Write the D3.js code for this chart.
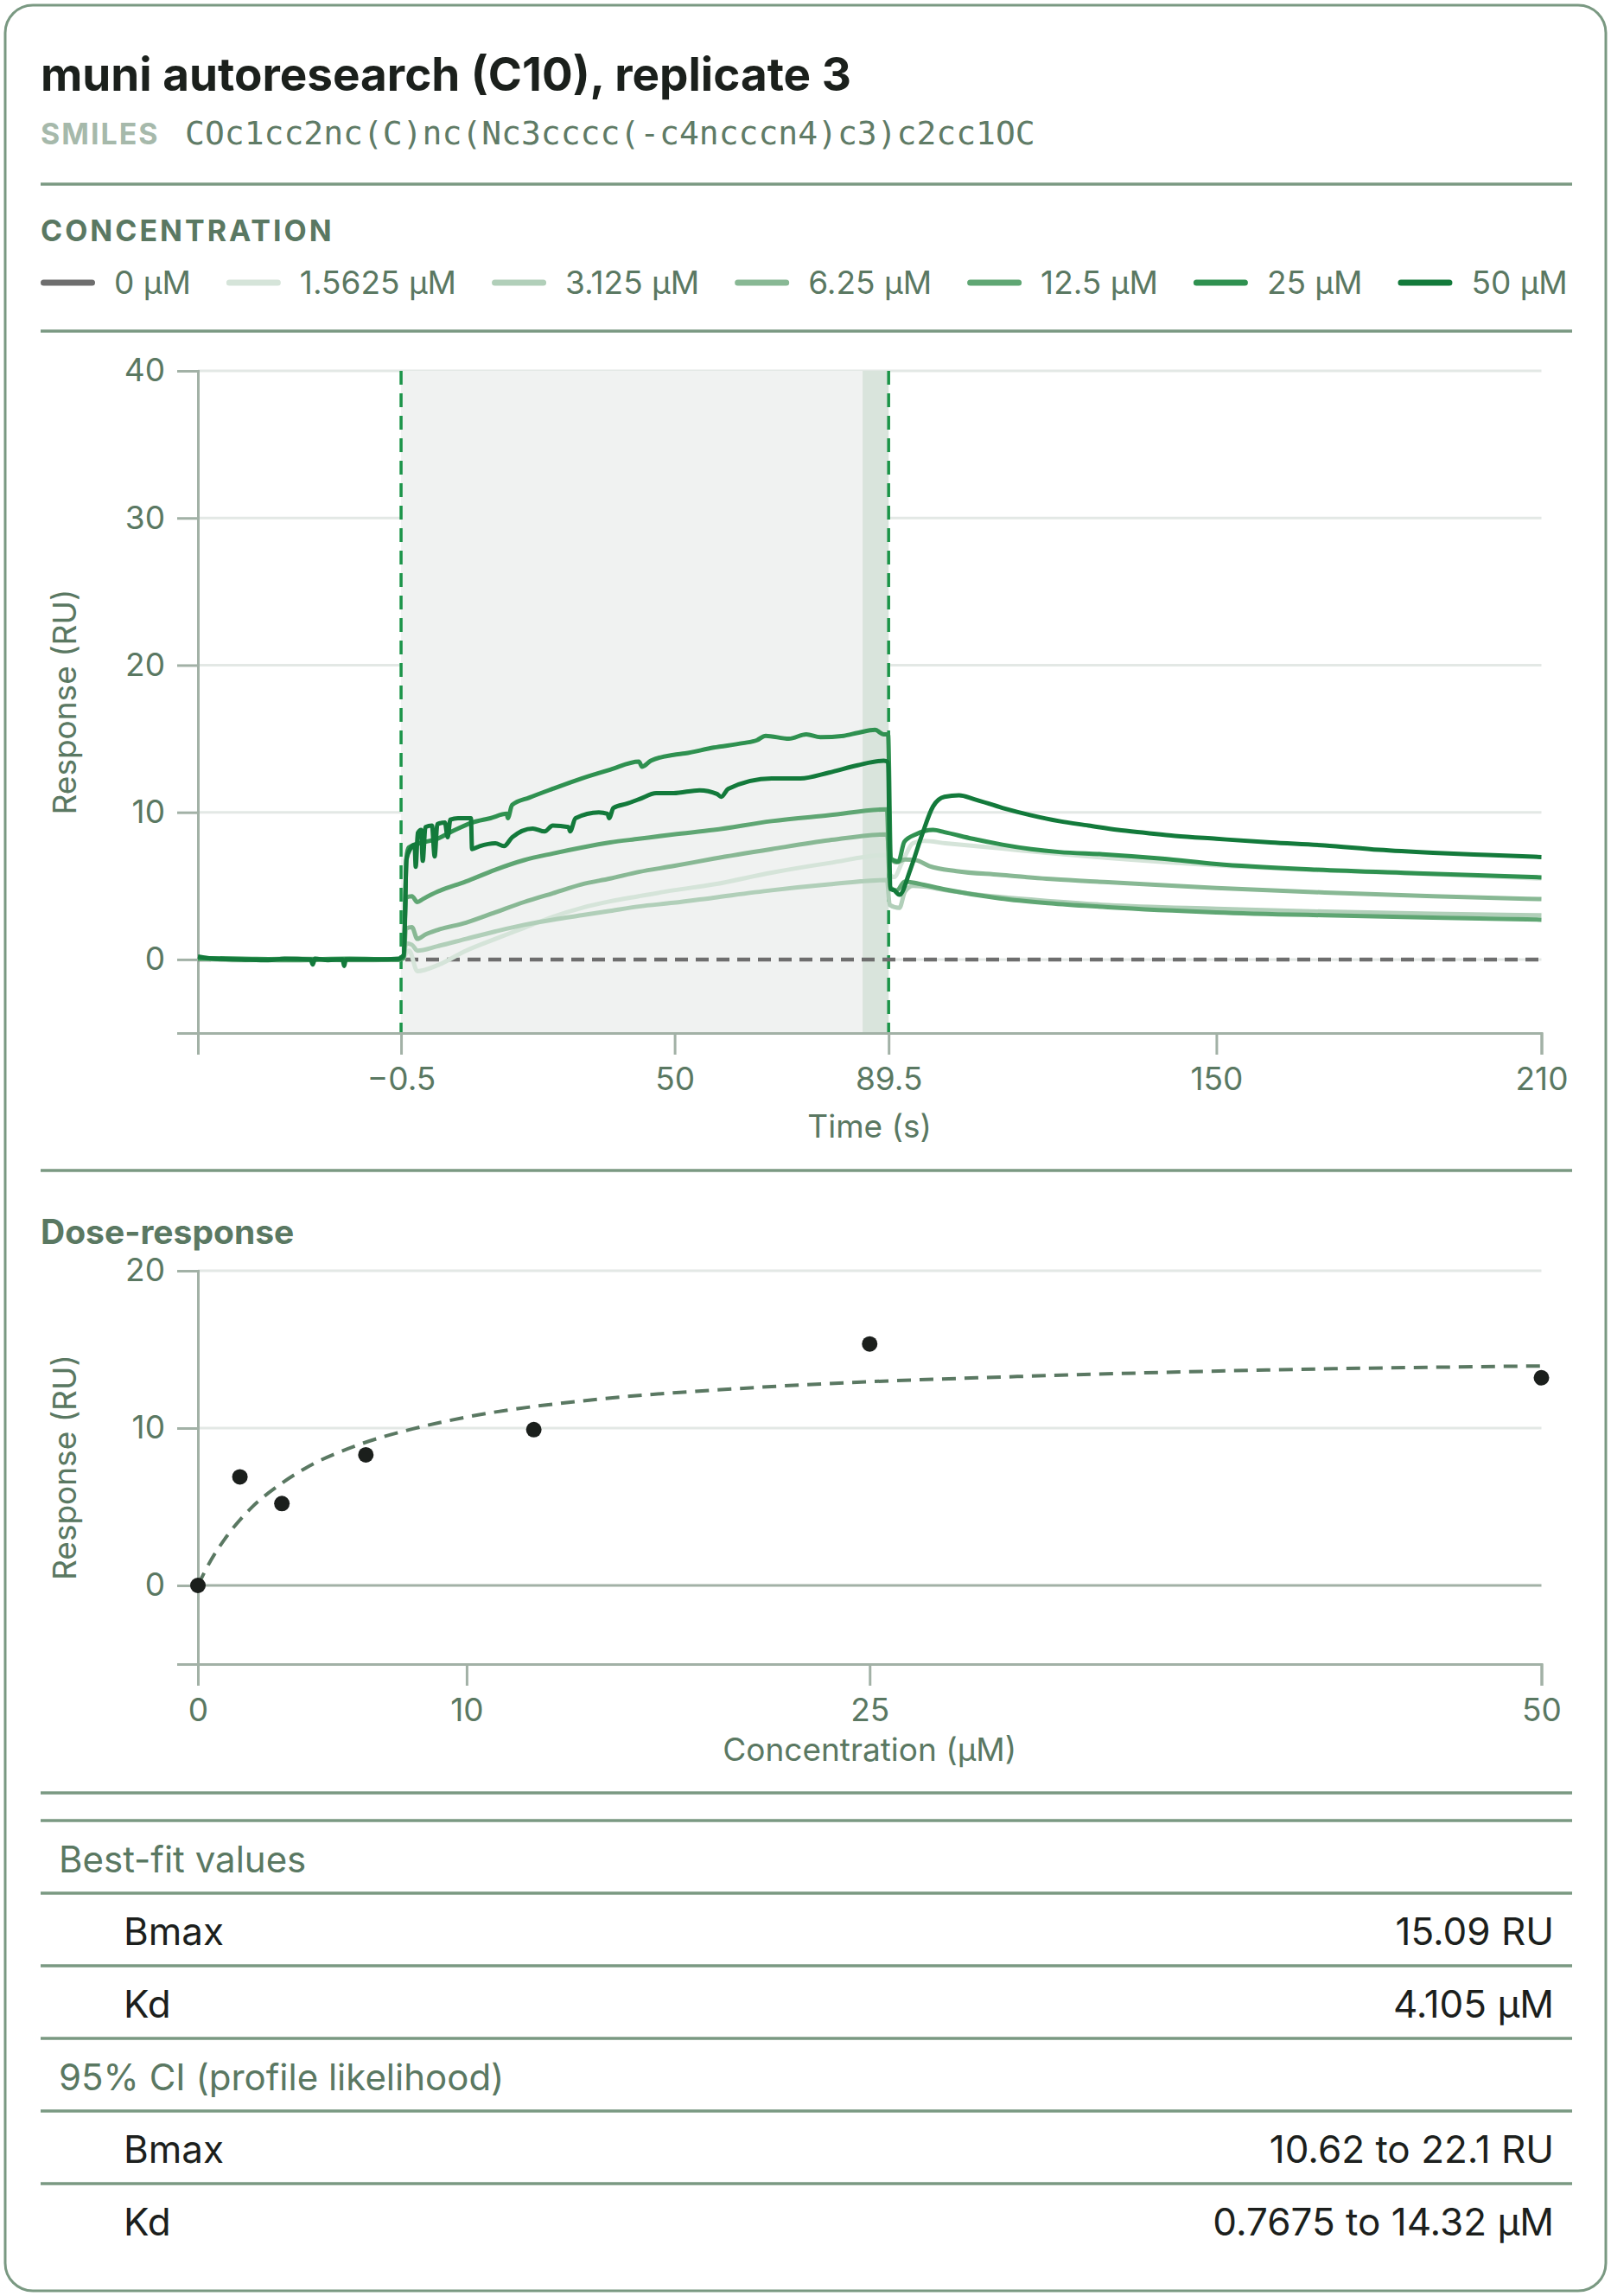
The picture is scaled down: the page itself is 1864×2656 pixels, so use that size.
<!DOCTYPE html>
<html>
<head>
<meta charset="utf-8">
<script src="https://cdn.jsdelivr.net/npm/d3@7"></script>
<style>
  body { margin: 0; background: #fff; }
  text { font-family: Inter, "Noto Sans", sans-serif; }
</style>
</head>
<body>
<div id="card"></div>
<script>

// ---- data ----
const titleText = "muni autoresearch (C10), replicate 3";
const smiles = "COc1cc2nc(C)nc(Nc3cccc(-c4ncccn4)c3)c2cc1OC";

const concLabels = ["0 µM", "1.5625 µM", "3.125 µM", "6.25 µM", "12.5 µM", "25 µM", "50 µM"];
const concValues = [0, 1.5625, 3.125, 6.25, 12.5, 25, 50];

// sensorgram traces, [time (s), response (RU)]
const trace0 = [[-38, 0], [210, 0]];

const trace1 = [[-38, 0.1], [-30, 0], [-20, -0.05], [-10, 0], [-1, 0], [0, 0.1], [0.4, 0.4], [1, 0.6],
  [2.5, -0.8], [6.2, -0.4], [11.5, 0.6], [16.9, 1.4], [22.2, 2.15], [27.5, 2.9], [32.8, 3.5],
  [38.1, 3.95], [43.4, 4.3], [49.8, 4.7], [57.2, 5.1], [67.9, 5.9], [78.5, 6.55], [89.2, 7.1],
  [89.7, 5.8], [90.5, 5.6], [92, 6.6], [94, 7.9], [96, 8.05], [100, 7.9], [110, 7.55], [120, 7.2],
  [130, 6.9], [150, 6.4], [170, 6.05], [190, 5.8], [210, 5.5]];

const trace2 = [[-38, 0.05], [-30, -0.05], [-20, 0], [-10, -0.05], [-1, 0], [0, 0.1], [0.4, 1.1], [1.5, 1.0],
  [2.5, 0.6], [6.2, 0.9], [11.5, 1.4], [16.9, 1.9], [22.2, 2.35], [27.5, 2.7], [32.8, 3.0],
  [38.1, 3.3], [43.4, 3.6], [49.8, 3.85], [57.2, 4.2], [67.9, 4.7], [78.5, 5.1], [89.2, 5.4],
  [89.7, 3.7], [91.5, 3.5], [92.5, 4.6], [94, 5.0], [96, 4.95], [100, 4.7], [110, 4.25], [120, 3.95],
  [130, 3.7], [150, 3.45], [170, 3.25], [190, 3.1], [210, 3.0]];

const trace3 = [[-38, 0.1], [-30, 0], [-20, 0.05], [-10, 0], [-1, 0], [0, 0.1], [0.4, 2.1], [1.5, 2.2],
  [2.5, 1.4], [4, 1.7], [6.2, 2.0], [11.5, 2.5], [16.9, 3.2], [22.2, 3.9], [27.5, 4.5], [32.8, 5.1],
  [38.1, 5.5], [43.4, 5.95], [49.8, 6.35], [57.2, 6.85], [67.9, 7.5], [78.5, 8.1], [89.2, 8.5],
  [89.7, 6.9], [91, 6.6], [92.5, 6.8], [94.5, 6.75], [97, 6.35], [102, 6.0], [110, 5.75], [120, 5.45],
  [130, 5.25], [150, 4.85], [170, 4.55], [190, 4.3], [210, 4.1]];

const trace4 = [[-38, 0.05], [-30, 0], [-20, -0.05], [-10, 0], [-1, 0], [0, 0.1], [0.4, 4.2], [1.5, 4.3],
  [2.5, 3.9], [3.5, 4.1], [6.2, 4.6], [11.5, 5.3], [16.9, 6.1], [22.2, 6.75], [27.5, 7.2], [32.8, 7.6],
  [38.1, 7.95], [43.4, 8.2], [49.8, 8.5], [57.2, 8.8], [67.9, 9.4], [78.5, 9.8], [89.2, 10.2],
  [89.7, 4.9], [91, 4.7], [92.5, 5.3], [95, 5.15], [100, 4.75], [110, 4.15], [120, 3.8], [130, 3.55],
  [150, 3.2], [170, 3.0], [190, 2.85], [210, 2.7]];

const trace5 = [[-38, 0.1], [-30, 0.05], [-20, 0], [-10, 0.05], [-1, 0], [0, 0.2], [0.5, 6.9], [0.9, 7.6],
  [3, 7.9], [6.2, 8.2], [8.9, 8.7], [12.6, 9.3], [16, 9.6], [19, 9.9], [19.2, 9.6], [20, 10.5],
  [23.2, 11.0], [27.5, 11.6], [32.8, 12.3], [38.1, 12.9], [43.4, 13.45], [44, 13.1], [45.6, 13.5],
  [49.8, 13.9], [51.9, 14.0], [57.2, 14.4], [62.6, 14.7], [65.2, 14.9], [66.8, 15.2], [71.1, 15.0],
  [74.3, 15.3], [76.9, 15.1], [81.2, 15.2], [83.8, 15.4], [87, 15.6], [88.6, 15.3], [89.4, 15.3],
  [89.9, 6.85], [91.3, 6.65], [92.4, 8.0], [94.5, 8.5], [97.7, 8.8], [99.8, 8.65], [105, 8.2],
  [110.5, 7.8], [115.8, 7.5], [121, 7.3], [129, 7.15], [140, 6.85], [150, 6.48], [168.6, 6.1],
  [187, 5.86], [210, 5.58]];

const trace6 = [[-38, 0.2], [-35, 0.05], [-30, 0], [-25, -0.05], [-22, 0.05], [-17.2, 0], [-16.8, -0.35],
  [-16.4, 0.05], [-14, -0.05], [-11.3, 0], [-11, -0.45], [-10.7, 0], [-5, 0], [-1, 0.05], [0, 0.3],
  [0.5, 6.8], [1.2, 7.5], [2, 7.8], [2.2, 6.3], [2.6, 8.6], [3.2, 8.8], [3.5, 6.7], [4, 9.0],
  [5.2, 9.1], [5.7, 7.0], [6.2, 9.2], [7.6, 9.3], [8.1, 8.3], [8.6, 9.5], [10, 9.6], [12.4, 9.6],
  [12.6, 7.5], [14, 7.7], [16.9, 7.9], [18.5, 7.7], [20, 8.3], [23.8, 8.9], [26, 8.7], [27.5, 9.1],
  [30.4, 9.0], [30.7, 8.7], [31.7, 9.6], [36, 10.0], [37.6, 9.9], [37.9, 9.6], [38.7, 10.3],
  [41.3, 10.6], [43.5, 10.9], [46.6, 11.3], [49.8, 11.3], [54.6, 11.5], [57.8, 11.25], [58.6, 11.05],
  [59.9, 11.6], [67.9, 12.3], [73.2, 12.3], [78.5, 12.7], [83.8, 13.2], [88.6, 13.5], [89.4, 13.4],
  [89.8, 4.8], [90.5, 4.7], [91.5, 4.4], [93.5, 6.1], [95.6, 8.4], [97.7, 10.4], [99.8, 11.05],
  [102.5, 11.15], [105.2, 10.9], [110.5, 10.3], [115.8, 9.8], [121, 9.4], [126.4, 9.1], [131.8, 8.8],
  [137, 8.6], [142.4, 8.4], [150, 8.2], [160, 7.95], [170, 7.75], [180, 7.45], [190, 7.25],
  [200, 7.1], [210, 6.96]];

const traces = [trace0, trace1, trace2, trace3, trace4, trace5, trace6];

const timeTicks = [-0.5, 50, 89.5, 150, 210];
const respTicks = [0, 10, 20, 30, 40];
const injectionStart = -0.5;
const injectionEnd = 89.5;
const reportWindowStart = 84.7;

// dose-response
const doseConc = [0, 1.5625, 3.125, 6.25, 12.5, 25, 50];
const doseResp = [0, 6.9, 5.2, 8.3, 9.9, 15.35, 13.2];
const fitConc = [0, 0.5, 1, 2, 3, 4, 6, 8, 10, 15, 20, 25, 30, 40, 50];
const fitResp = [0, 1.65, 2.95, 4.95, 6.35, 7.45, 8.95, 9.95, 10.7, 11.85, 12.5, 12.95, 13.25, 13.7, 13.95];
const concTicks = [0, 10, 25, 50];
const doseTicks = [0, 10, 20];

// fit table
const tableRows = [
  ["Best-fit values", ""],
  ["Bmax", "15.09 RU"],
  ["Kd", "4.105 µM"],
  ["95% CI (profile likelihood)", ""],
  ["Bmax", "10.62 to 22.1 RU"],
  ["Kd", "0.7675 to 14.32 µM"]
];

// ---- styles ----
const traceColors = ["#6e6e6e", "#d5e4d9", "#b1cfb9", "#88b894", "#5fa673", "#2f9150", "#137a3b"];
const frame = "#7a9982";
const label = "#5a7862";
const axisColor = "#a2b1a6";
const gridColor = "#e3e8e5";

const W = 1864, H = 2656;
const left = 47, right = 1819;

const svg = d3.select("#card").append("svg")
  .attr("width", W)
  .attr("height", H);

svg.append("rect")
  .attr("x", 6).attr("y", 6)
  .attr("width", W - 12).attr("height", H - 12)
  .attr("rx", 32)
  .attr("fill", "#fff")
  .attr("stroke", frame)
  .attr("stroke-width", 3);

// header
svg.append("text")
  .attr("x", left).attr("y", 105)
  .attr("font-size", 53).attr("font-weight", 700)
  .attr("fill", "#1b201c")
  .text(titleText);

svg.append("text")
  .attr("x", left).attr("y", 167)
  .attr("font-size", 34).attr("font-weight", 700)
  .attr("letter-spacing", 2)
  .attr("fill", "#a6b9ab")
  .text("SMILES");

svg.append("text")
  .attr("x", 214).attr("y", 167)
  .style("font-family", "'DejaVu Sans Mono', monospace")
  .attr("font-size", 38)
  .attr("fill", "#5f7b66")
  .text(smiles);

const divider = function(y) {
  svg.append("line")
    .attr("x1", left).attr("x2", right)
    .attr("y1", y).attr("y2", y)
    .attr("stroke", frame)
    .attr("stroke-width", 3.5);
};

divider(213);

svg.append("text")
  .attr("x", left).attr("y", 279)
  .attr("font-size", 34).attr("font-weight", 700)
  .attr("letter-spacing", 3)
  .attr("fill", label)
  .text("CONCENTRATION");

// legend, laid out left to right
let legendX = left;
concLabels.forEach((lab, i) => {
  const g = svg.append("g").attr("transform", `translate(${legendX},327)`);
  g.append("line")
    .attr("x1", 3.5).attr("x2", 59.5)
    .attr("stroke", traceColors[i])
    .attr("stroke-width", 7)
    .attr("stroke-linecap", "round");
  const t = g.append("text")
    .attr("x", 85).attr("y", 13)
    .attr("font-size", 37)
    .attr("fill", label)
    .text(lab);
  legendX += 85 + t.node().getComputedTextLength() + 41;
});

divider(383);

// ---- sensorgram ----
const p1 = { x0: 229, x1: 1783.5, y0: 429, y1: 1195 };

const scaleT = d3.scaleLinear().domain([-38, 210]).range([p1.x0, p1.x1]);
const scaleR = d3.scaleLinear().domain([-5, 40]).range([p1.y1, p1.y0]);

const minus = d => (d < 0 ? "\u2212" + Math.abs(d) : String(d));

svg.append("g")
  .selectAll("line.grid")
  .data(respTicks)
  .join("line")
  .attr("class", "grid")
  .attr("x1", p1.x0).attr("x2", p1.x1)
  .attr("y1", d => scaleR(d)).attr("y2", d => scaleR(d))
  .attr("stroke", gridColor)
  .attr("stroke-width", 3);

svg.append("rect")
  .attr("x", scaleT(injectionStart))
  .attr("y", p1.y0)
  .attr("width", scaleT(injectionEnd) - scaleT(injectionStart))
  .attr("height", p1.y1 - p1.y0)
  .attr("fill", "#f0f2f1");

svg.append("rect")
  .attr("x", scaleT(reportWindowStart))
  .attr("y", p1.y0)
  .attr("width", scaleT(injectionEnd) - scaleT(reportWindowStart))
  .attr("height", p1.y1 - p1.y0)
  .attr("fill", "#d9e4dc");

svg.append("g")
  .selectAll("line.inj")
  .data([injectionStart, injectionEnd])
  .join("line")
  .attr("class", "inj")
  .attr("x1", d => scaleT(d)).attr("x2", d => scaleT(d))
  .attr("y1", p1.y0).attr("y2", p1.y1)
  .attr("stroke", "#1b9448")
  .attr("stroke-width", 3.5)
  .attr("stroke-dasharray", "16,10");

const styleAxis = function(g) {
  g.select(".domain").attr("stroke", axisColor).attr("stroke-width", 3);
  g.selectAll(".tick line").attr("stroke", axisColor).attr("stroke-width", 3);
  g.selectAll(".tick text")
    .attr("fill", label)
    .attr("font-size", 37)
    .style("font-family", "Inter, 'Noto Sans', sans-serif");
};

svg.append("g")
  .attr("transform", `translate(0,${p1.y1})`)
  .call(d3.axisBottom(scaleT).tickValues(timeTicks).tickFormat(minus)
    .tickSize(25).tickPadding(15))
  .call(styleAxis);

svg.append("g")
  .attr("transform", `translate(${p1.x0},0)`)
  .call(d3.axisLeft(scaleR).tickValues(respTicks).tickSize(24).tickPadding(14))
  .call(styleAxis);

svg.append("text")
  .attr("x", (p1.x0 + p1.x1) / 2).attr("y", 1316)
  .attr("text-anchor", "middle")
  .attr("font-size", 37).attr("fill", label)
  .text("Time (s)");

svg.append("text")
  .attr("transform", `translate(88,${(p1.y0 + p1.y1) / 2}) rotate(-90)`)
  .attr("text-anchor", "middle")
  .attr("font-size", 37).attr("fill", label)
  .text("Response (RU)");

const traceLine = d3.line()
  .x(d => scaleT(d[0]))
  .y(d => scaleR(d[1]))
  .curve(d3.curveMonotoneX);

svg.append("g")
  .selectAll("path.trace")
  .data(traces)
  .join("path")
  .attr("class", "trace")
  .attr("d", traceLine)
  .attr("fill", "none")
  .attr("stroke", (d, i) => traceColors[i])
  .attr("stroke-width", (d, i) => (i === 0 ? 4.5 : 5))
  .attr("stroke-dasharray", (d, i) => (i === 0 ? "15,9" : null))
  .attr("stroke-linejoin", "round");

divider(1354);

// ---- dose-response ----
svg.append("text")
  .attr("x", left).attr("y", 1439)
  .attr("font-size", 39).attr("font-weight", 700)
  .attr("fill", label)
  .text("Dose-response");

const p2 = { x0: 229, x1: 1783.5, y0: 1470, y1: 1925 };
const scaleC = d3.scaleLinear().domain([0, 50]).range([p2.x0, p2.x1]);
const scaleD = d3.scaleLinear().domain([-5, 20]).range([p2.y1, p2.y0]);

svg.append("g")
  .selectAll("line.grid2")
  .data(doseTicks)
  .join("line")
  .attr("class", "grid2")
  .attr("x1", p2.x0).attr("x2", p2.x1)
  .attr("y1", d => scaleD(d)).attr("y2", d => scaleD(d))
  .attr("stroke", d => (d === 0 ? axisColor : gridColor))
  .attr("stroke-width", 3);

svg.append("g")
  .attr("transform", `translate(0,${p2.y1})`)
  .call(d3.axisBottom(scaleC).tickValues(concTicks).tickSize(25).tickPadding(15))
  .call(styleAxis);

svg.append("g")
  .attr("transform", `translate(${p2.x0},0)`)
  .call(d3.axisLeft(scaleD).tickValues(doseTicks).tickSize(24).tickPadding(14))
  .call(styleAxis);

svg.append("text")
  .attr("x", (p2.x0 + p2.x1) / 2).attr("y", 2037)
  .attr("text-anchor", "middle")
  .attr("font-size", 37).attr("fill", label)
  .text("Concentration (µM)");

svg.append("text")
  .attr("transform", `translate(88,${(p2.y0 + p2.y1) / 2}) rotate(-90)`)
  .attr("text-anchor", "middle")
  .attr("font-size", 37).attr("fill", label)
  .text("Response (RU)");

svg.append("path")
  .datum(d3.zip(fitConc, fitResp))
  .attr("d", d3.line()
    .x(d => scaleC(d[0]))
    .y(d => scaleD(d[1]))
    .curve(d3.curveMonotoneX))
  .attr("fill", "none")
  .attr("stroke", label)
  .attr("stroke-width", 4)
  .attr("stroke-dasharray", "16,10");

svg.append("g")
  .selectAll("circle")
  .data(d3.zip(doseConc, doseResp))
  .join("circle")
  .attr("cx", d => scaleC(d[0]))
  .attr("cy", d => scaleD(d[1]))
  .attr("r", 9)
  .attr("fill", "#1b1f1c");

// ---- fit table ----
divider(2074);
const rowTop = 2106, rowH = 84;
tableRows.forEach((row, i) => {
  const y = rowTop + i * rowH;
  divider(y);
  const header = row[1] === "";
  svg.append("text")
    .attr("x", header ? 68 : 143)
    .attr("y", y + 60)
    .attr("font-size", header ? 42 : 44)
    .attr("fill", header ? label : "#1c1f1d")
    .text(row[0]);
  if (!header) {
    svg.append("text")
      .attr("x", 1798).attr("y", y + 60)
      .attr("text-anchor", "end")
      .attr("font-size", 44)
      .attr("fill", "#1c1f1d")
      .text(row[1]);
  }
});

</script>
</body>
</html>
